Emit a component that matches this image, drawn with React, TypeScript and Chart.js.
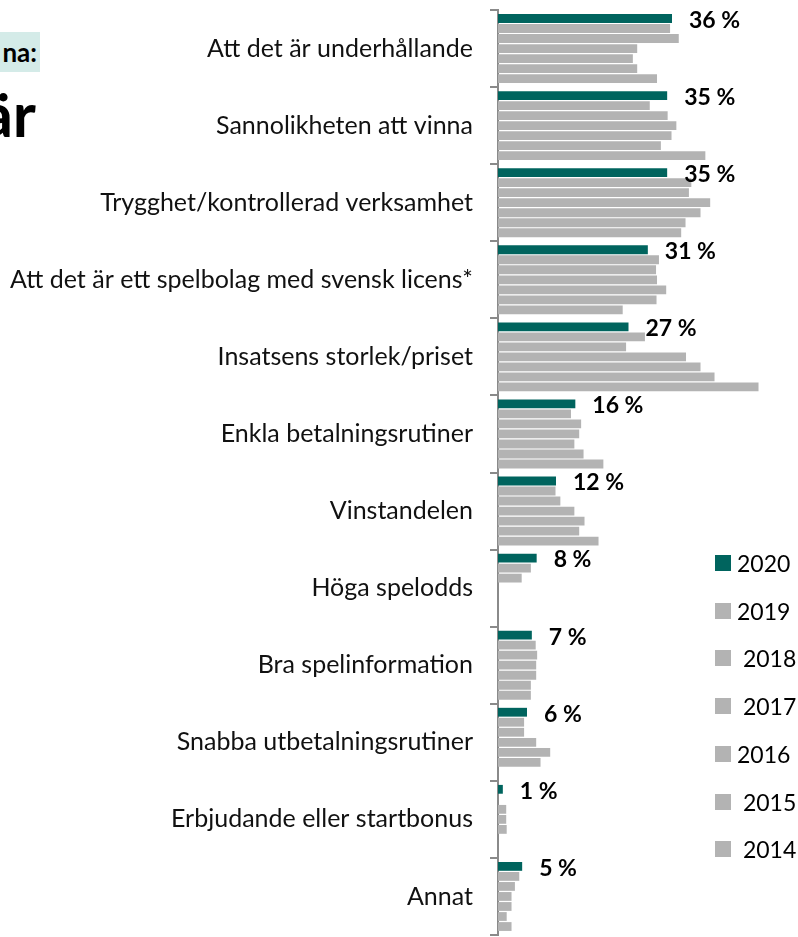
import React, { useEffect, useRef } from "react";
import { Chart, registerables } from "chart.js";

Chart.register(...registerables);

const categories = [
  "Att det är underhållande",
  "Sannolikheten att vinna",
  "Trygghet/kontrollerad verksamhet",
  "Att det är ett spelbolag med svensk licens*",
  "Insatsens storlek/priset",
  "Enkla betalningsrutiner",
  "Vinstandelen",
  "Höga spelodds",
  "Bra spelinformation",
  "Snabba utbetalningsrutiner",
  "Erbjudande eller startbonus",
  "Annat",
];

const years = ["2020", "2019", " 2018", " 2017", "2016", " 2015", " 2014"];

const v2020 = [36, 35, 35, 31, 27, 16, 12, 8, 7, 6, 1, 5];
const v2019 = [35.6, 31.4, 40, 33.3, 30.4, 15.1, 11.9, 6.8, 7.8, 5.4, null, 4.4];
const v2018 = [37.4, 35.1, 39.5, 32.7, 26.5, 17.2, 12.9, 4.9, 8.1, 5.4, 1.7, 3.5];
const v2017 = [28.8, 36.9, 43.9, 32.9, 38.9, 16.8, 15.8, null, 7.9, 7.9, 1.7, 2.8];
const v2016 = [27.9, 35.9, 41.9, 34.8, 41.9, 15.8, 17.9, null, 7.9, 10.8, 1.8, 2.8];
const v2015 = [28.8, 33.7, 38.8, 32.8, 44.8, 17.7, 16.8, null, 6.8, 8.8, null, 1.8];
const v2014 = [32.9, 42.9, 37.9, 25.8, 53.9, 21.8, 20.8, null, 6.8, null, null, 2.8];

const seriesValues = [v2020, v2019, v2018, v2017, v2016, v2015, v2014];

const TEAL = "#00645E";
const GRAY = "#B3B3B3";
const seriesColors = [TEAL, GRAY, GRAY, GRAY, GRAY, GRAY, GRAY];

const valueLabelPlugin = {
  id: "valueLabels",
  afterDatasetsDraw(chart: any) {
    const ctx = chart.ctx;
    const meta = chart.getDatasetMeta(0);
    ctx.save();
    ctx.font = "bold 23px Lato";
    ctx.fillStyle = "#000";
    ctx.textBaseline = "middle";
    ctx.textAlign = "left";
    meta.data.forEach((bar: any, i: number) => {
      const v = v2020[i];
      if (v == null) return;
      ctx.fillText(`${v} %`, bar.x + 17, bar.y + 2);
    });
    ctx.restore();
  },
};

export default function App() {
  const canvasRef = useRef<HTMLCanvasElement | null>(null);

  useEffect(() => {
    if (!canvasRef.current) return;
    const chart = new Chart(canvasRef.current, {
      type: "bar",
      data: {
        labels: categories,
        datasets: seriesValues.map((d, i) => ({
          label: years[i].trim(),
          data: d as any,
          backgroundColor: seriesColors[i],
          borderWidth: 0,
          barPercentage: 0.88,
          categoryPercentage: 0.91,
        })),
      },
      options: {
        indexAxis: "y",
        animation: false,
        responsive: false,
        layout: { padding: { top: 10, right: 10, bottom: 2, left: 0 } },
        plugins: {
          legend: { display: false },
          tooltip: { enabled: false },
        },
        scales: {
          x: { display: false, min: 0, max: 60 },
          y: {
            afterFit: (s: any) => {
              s.width = 498;
              s.paddingTop = 0;
              s.paddingBottom = 0;
            },
            border: { display: true, color: "#8a8a8a", width: 2 },
            grid: {
              display: true,
              drawOnChartArea: false,
              drawTicks: true,
              tickLength: 8,
              color: "#8a8a8a",
              lineWidth: 2,
              offset: true,
            },
            ticks: {
              font: { family: "Lato", size: 25 },
              color: "#111",
              padding: 17,
            },
          },
        },
      } as any,
      plugins: [valueLabelPlugin],
    });
    return () => chart.destroy();
  }, []);

  return (
    <div
      style={{
        position: "absolute",
        left: 0,
        top: 0,
        width: 798,
        height: 937,
        overflow: "hidden",
        background: "#fff",
        fontFamily: "Lato, sans-serif",
      }}
    >
      <canvas
        ref={canvasRef}
        width={798}
        height={937}
        style={{ position: "absolute", left: 0, top: 0, width: 798, height: 937 }}
      />
      <div
        style={{
          position: "absolute",
          left: 0,
          top: 32,
          width: 40,
          height: 40,
          background: "#D4EBE8",
          overflow: "hidden",
        }}
      >
        <div
          style={{
            position: "absolute",
            right: 3,
            top: 0,
            lineHeight: "40px",
            fontSize: 26,
            fontWeight: 700,
            whiteSpace: "nowrap",
            color: "#000",
          }}
        >
          na:
        </div>
      </div>
      <div
        style={{
          position: "absolute",
          right: 798 - 36,
          top: 82,
          fontSize: 62,
          lineHeight: "62px",
          fontWeight: 700,
          whiteSpace: "nowrap",
          color: "#000",
        }}
      >
        är
      </div>
      {years.map((y, i) => (
        <div
          key={y}
          style={{
            position: "absolute",
            left: 715,
            top: 555 + i * 47.7,
            height: 16,
            display: "flex",
            alignItems: "center",
          }}
        >
          <div style={{ width: 16, height: 16, background: seriesColors[i] }} />
          <div
            style={{
              marginLeft: 6,
              fontSize: 23,
              lineHeight: "16px",
              whiteSpace: "pre",
              color: "#000",
            }}
          >
            {y}
          </div>
        </div>
      ))}
    </div>
  );
}
